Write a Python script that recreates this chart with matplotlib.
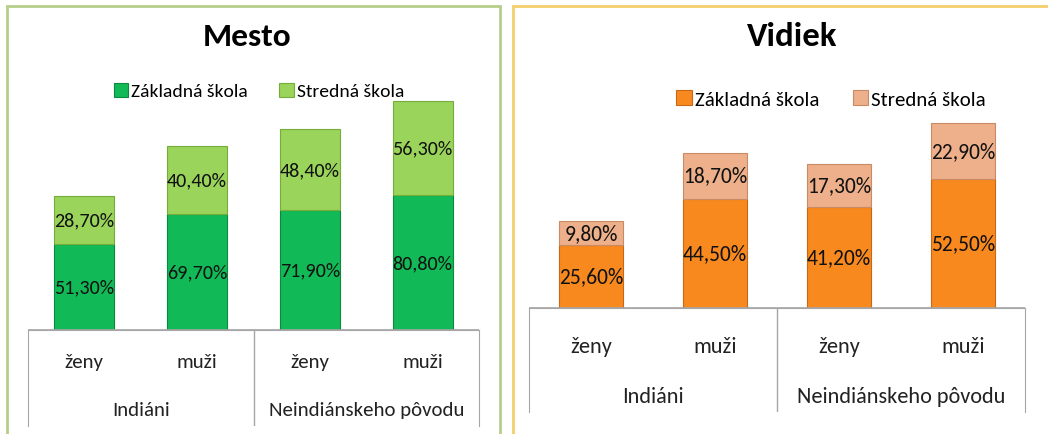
import matplotlib.pyplot as plt
from matplotlib.patches import Rectangle

plt.rcParams['font.family'] = ['Carlito', 'Liberation Sans Narrow', 'DejaVu Sans']

categories = ['ženy', 'muži', 'ženy', 'muži']
groups = ['Indiáni', 'Neindiánskeho pôvodu']
series = ['Základná škola', 'Stredná škola']

mesto_zakladna = [51.3, 69.7, 71.9, 80.8]
mesto_stredna = [28.7, 40.4, 48.4, 56.3]
vidiek_zakladna = [25.6, 44.5, 41.2, 52.5]
vidiek_stredna = [9.8, 18.7, 17.3, 22.9]

W, H = 1048, 435
fig = plt.figure(figsize=(W / 100, H / 100), dpi=100)

def px(x0, y0, x1, y1):
    # pixel box (top-left origin) -> figure fraction rect
    return [x0 / W, 1 - y1 / H, (x1 - x0) / W, (y1 - y0) / H]

# panel frames
fig.patches.append(Rectangle((7 / W, -0.1), (500 - 7) / W, 1.1 - 7 / H,
                             transform=fig.transFigure, fill=False,
                             edgecolor='#b5cf8a', lw=2))
fig.patches.append(Rectangle((513 / W, -0.1), 0.6, 1.1 - 7 / H,
                             transform=fig.transFigure, fill=False,
                             edgecolor='#f2cf6a', lw=2))

def pct(v):
    return f'{v:.2f}%'.replace('.', ',')

def panel(title, zakl, stred, ax_box, lab_box, ymax, width, colors,
          title_xy, legend_xy, cat_y, grp_y, fs):
    ax = fig.add_axes(px(*ax_box))
    x = range(len(categories))
    b1 = ax.bar(x, zakl, width, color=colors[0], edgecolor=colors[2], lw=0.8,
                label=series[0])
    b2 = ax.bar(x, stred, width, bottom=zakl, color=colors[1],
                edgecolor=colors[3], lw=0.8, label=series[1])
    for i in x:
        ax.text(i, zakl[i] / 2, pct(zakl[i]), ha='center', va='center',
                fontsize=fs + 0.5, color='#111111')
        ax.text(i, zakl[i] + stred[i] / 2, pct(stred[i]), ha='center',
                va='center', fontsize=fs + 0.5, color='#111111')
    ax.set_xlim(-0.5, 3.5)
    ax.set_ylim(0, ymax)
    ax.axis('off')
    ax.axhline(0, color='#a6a6a6', lw=1.2)

    lab = fig.add_axes(px(*lab_box))
    lab.set_xlim(-0.5, 3.5)
    lab.set_ylim(0, 1)
    lab.set_xticks([])
    lab.set_yticks([])
    for s in ['left', 'right', 'top']:
        lab.spines[s].set_color('#a6a6a6')
    lab.spines['bottom'].set_visible(False)
    lab.axvline(1.5, color='#a6a6a6', lw=1)
    for i, c in enumerate(categories):
        lab.text(i, cat_y, c, ha='center', va='center', fontsize=fs + 1,
                 color='#222222')
    for g, gx in zip(groups, [0.5, 2.5]):
        lab.text(gx, grp_y, g, ha='center', va='center', fontsize=fs + 1,
                 color='#222222')

    fig.text(title_xy[0] / W, 1 - title_xy[1] / H, title, ha='center',
             va='center', fontsize=fs + 10, fontweight='bold')
    fig.legend(handles=[b1, b2], loc='center',
               bbox_to_anchor=(legend_xy[0] / W, 1 - legend_xy[1] / H),
               ncol=2, frameon=False, fontsize=fs, handlelength=0.75,
               handleheight=0.75, handletextpad=0.15, columnspacing=1.6)

panel('Mesto', mesto_zakladna, mesto_stredna,
      (28, 90, 479, 331), (28, 331, 479, 427), 144.3, 0.53,
      ['#12b957', '#9ad45a', '#0a8a3e', '#76ad3a'],
      (247, 37), (259, 92), 0.67, 0.17, 14)

panel('Vidiek', vidiek_zakladna, vidiek_stredna,
      (529, 100, 1025, 309), (529, 309, 1025, 413), 85.0, 0.51,
      ['#f7891f', '#edb08a', '#c8671a', '#c98b64'],
      (792, 37), (831, 100), 0.63, 0.15, 15)

fig.savefig('out.png', dpi=100)
